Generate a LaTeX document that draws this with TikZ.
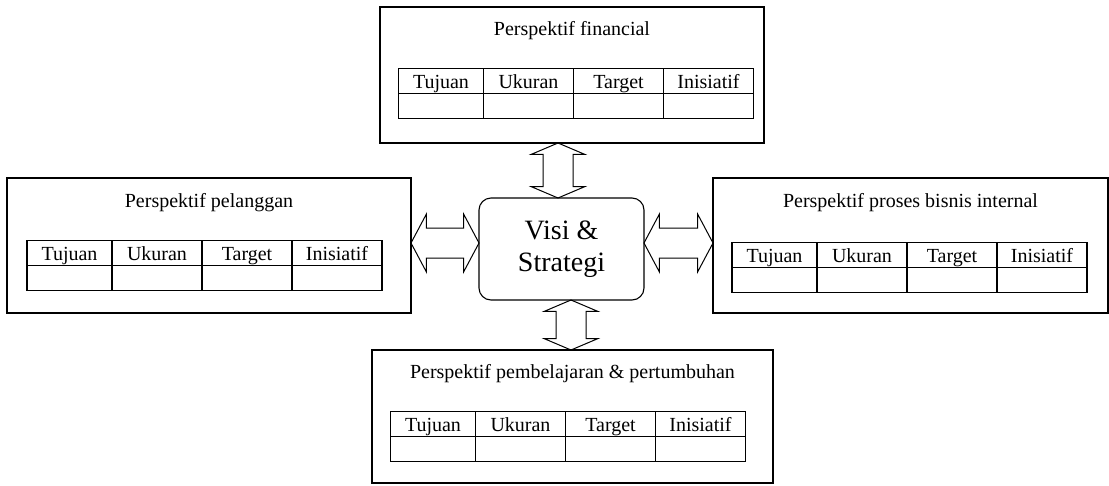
\documentclass[tikz,border=0pt]{standalone}
\usepackage{fontspec}
\setmainfont{Liberation Serif}
\usetikzlibrary{matrix}
\usetikzlibrary{positioning}
\usetikzlibrary{shapes.arrows}

\begin{document}
\begin{tikzpicture}[x=1pt,y=-1pt,
        box/.style={draw,line width=1.1pt,inner sep=0pt},
        ttl/.style={font=\fontsize{20}{24}\selectfont,inner sep=0pt},
        tbl/.style={matrix of nodes,nodes in empty cells,inner sep=0pt,column sep=-1.5pt,row sep=-1.5pt,
                nodes={draw,line width=1.5pt,minimum width=90pt,minimum height=25pt,inner sep=0pt,
                        text height=18pt,text depth=2pt,font=\fontsize{20}{24}\selectfont},
                column 1/.style={nodes={minimum width=85pt}}},
        visi/.style={draw,line width=1.1pt,rounded corners=12pt,minimum width=165pt,minimum height=102pt,
                align=center,font=\fontsize{28}{32}\selectfont},
        harr/.style={draw,line width=1pt,double arrow,inner xsep=0pt,inner ysep=14.5pt,
                double arrow head extend=14pt,double arrow tip angle=124},
        varr/.style={draw,line width=1pt,double arrow,inner xsep=0pt,inner ysep=14.5pt,rotate=90,
                double arrow head extend=12pt,double arrow tip angle=134}]
        \useasboundingbox (0,0) rectangle (1109,485);

        % the four perspectives
        \node[box,minimum width=384pt,minimum height=136pt] (fin) at (572,75) {};
        \node[ttl,below=15pt of fin.north] (fint) {Perspektif financial};
        \matrix (tf) [tbl,below=61pt of fin.north,xshift=4pt]
        {
                Tujuan & Ukuran & Target & Inisiatif \\
                & & & \\
        };

        \node[box,minimum width=404pt,minimum height=135pt] (pel) at (209,245.5) {};
        \node[ttl,below=16pt of pel.north] (pelt) {Perspektif pelanggan};
        \matrix (tp) [tbl,below=62pt of pel.north,xshift=-4.5pt]
        {
                Tujuan & Ukuran & Target & Inisiatif \\
                & & & \\
        };

        \node[box,minimum width=395pt,minimum height=135pt] (pro) at (910.5,245.5) {};
        \node[ttl,below=16pt of pro.north] (prot) {Perspektif proses bisnis internal};
        \matrix (tr) [tbl,below=64pt of pro.north,xshift=-1pt]
        {
                Tujuan & Ukuran & Target & Inisiatif \\
                & & & \\
        };

        \node[box,minimum width=401pt,minimum height=133pt] (bel) at (572.5,416.5) {};
        \node[ttl,below=15pt of bel.north] (belt) {Perspektif pembelajaran \& pertumbuhan};
        \matrix (tb) [tbl,below=61pt of bel.north,xshift=-4.5pt]
        {
                Tujuan & Ukuran & Target & Inisiatif \\
                & & & \\
        };

        % centre
        \node[visi] (vs) at (561.5,249) {Visi \&\\Strategi};

        % double arrows
        \path ([xshift=-14pt]fin.south) -- ([xshift=-3.5pt]vs.north)
                node[midway,varr,minimum height=55pt] (a1) {};
        \path ([xshift=9.5pt]vs.south) -- ([xshift=-1.5pt]bel.north)
                node[midway,varr,minimum height=50pt] (a2) {};
        \path ([yshift=2.5pt]pel.east) -- ([yshift=6pt]vs.west)
                node[midway,harr,minimum height=68pt] (a3) {};
        \path ([yshift=6pt]vs.east) -- ([yshift=2.5pt]pro.west)
                node[midway,harr,minimum height=69pt] (a4) {};
\end{tikzpicture}
\end{document}
